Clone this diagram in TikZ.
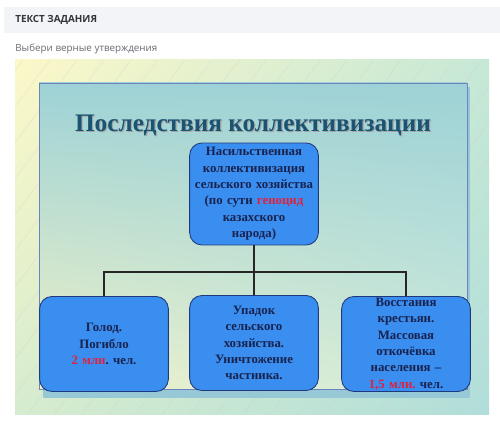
\documentclass[tikz,border=0pt]{standalone}
\usepackage{fontspec}
\usetikzlibrary{shadings}
\setmainfont{Liberation Serif}
\newfontfamily\uifont{Open Sans}
\frenchspacing
\definecolor{barback}{RGB}{243,244,247}
\definecolor{uidark}{RGB}{50,52,58}
\definecolor{uigray}{RGB}{105,108,115}
\definecolor{slideyel}{RGB}{252,248,200}
\definecolor{slidemint}{RGB}{198,232,214}
\definecolor{slidegreen}{RGB}{214,236,206}
\definecolor{slidecyan}{RGB}{176,222,218}
\definecolor{paneteal}{RGB}{158,210,214}
\definecolor{panelow}{RGB}{240,242,200}
\definecolor{panelowr}{RGB}{206,234,220}
\definecolor{paneline}{RGB}{110,130,190}
\definecolor{paneshade}{RGB}{150,200,214}
\definecolor{boxblue}{RGB}{58,142,240}
\definecolor{boxline}{RGB}{30,58,125}
\definecolor{boxtext}{RGB}{24,34,78}
\definecolor{hotred}{RGB}{225,32,62}
\definecolor{titleteal}{RGB}{26,84,114}
\tikzset{
  effect/.style={draw=boxline, fill=boxblue, line width=0.5pt, rounded corners=7pt,
    minimum width=2.56cm, minimum height=1.9cm, text width=2.54cm, inner sep=0.5pt,
    align=center, text=boxtext, font=\fontsize{7.3}{9.3}\selectfont\bfseries},
  bus/.style={line width=0.6pt, draw=black!85},
}
\newcommand{\hot}[1]{\textcolor{hotred}{#1}}
\begin{document}
\begin{tikzpicture}[x=0.02cm, y=-0.02cm]
  \useasboundingbox (0,0) rectangle (500,428);
  \fill[white] (0,0) rectangle (500,428);
  \fill[barback] (4,7) rectangle (500,33);
  \node[anchor=west, inner sep=0, text=uidark, font=\uifont\fontsize{5.6}{6}\selectfont\bfseries] (task) at (15,20) {ТЕКСТ ЗАДАНИЯ};
  \node[anchor=west, inner sep=0, text=uigray, font=\uifont\fontsize{5.6}{6}\selectfont] (hint) at (15,49) {Выбери верные утверждения};
  \shade[upper left=slideyel, upper right=slidemint, lower left=slidegreen, lower right=slidecyan] (15,60) rectangle (489,415);
  \begin{scope}
    \clip (15,60) rectangle (489,415);
    \foreach \i in {-12,...,18}
      \draw[white!60!gray, opacity=0.35, line width=0.3pt] (\i*27,415) -- ++(266,-355);
  \end{scope}
  \fill[paneshade] (43,87) rectangle (470,398);
  \shade[upper left=paneteal, upper right=paneteal, lower left=panelow, lower right=panelowr] (39,83) rectangle (467,389);
  \draw[paneline, line width=0.4pt] (39,83) rectangle (467,389);
  \node[text=gray!70, font=\fontsize{14.4}{16}\selectfont\bfseries] at (254.2,126.2) {Последствия коллективизации};
  \node[text=titleteal, font=\fontsize{14.4}{16}\selectfont\bfseries] (title) at (253,125) {Последствия коллективизации};
  \node[effect, minimum height=2.04cm] (cause) at (254,194)
    {Насильственная\\ коллективизация\\ сельского хозяйства\\ (по сути \hot{геноцид}\\ казахского\\ народа)};
  \node[effect] (famine) at (104,344) {Голод.\\ Погибло\\ \hot{2 млн}. чел.};
  \node[effect] (decline) at (254,343) {Упадок\\ сельского\\ хозяйства.\\ Уничтожение\\ частника.};
  \node[effect] (revolt) at (406,344) {Восстания\\ крестьян.\\ Массовая\\ откочёвка\\ населения --\\ \hot{1,5 млн.} чел.};
  \coordinate (fork) at (254,272);
  \draw[bus] (cause.south) -- (fork);
  \draw[bus] (famine.north) |- (fork) -| (revolt.north);
  \draw[bus] (fork) -- (decline.north);
\end{tikzpicture}
\end{document}
